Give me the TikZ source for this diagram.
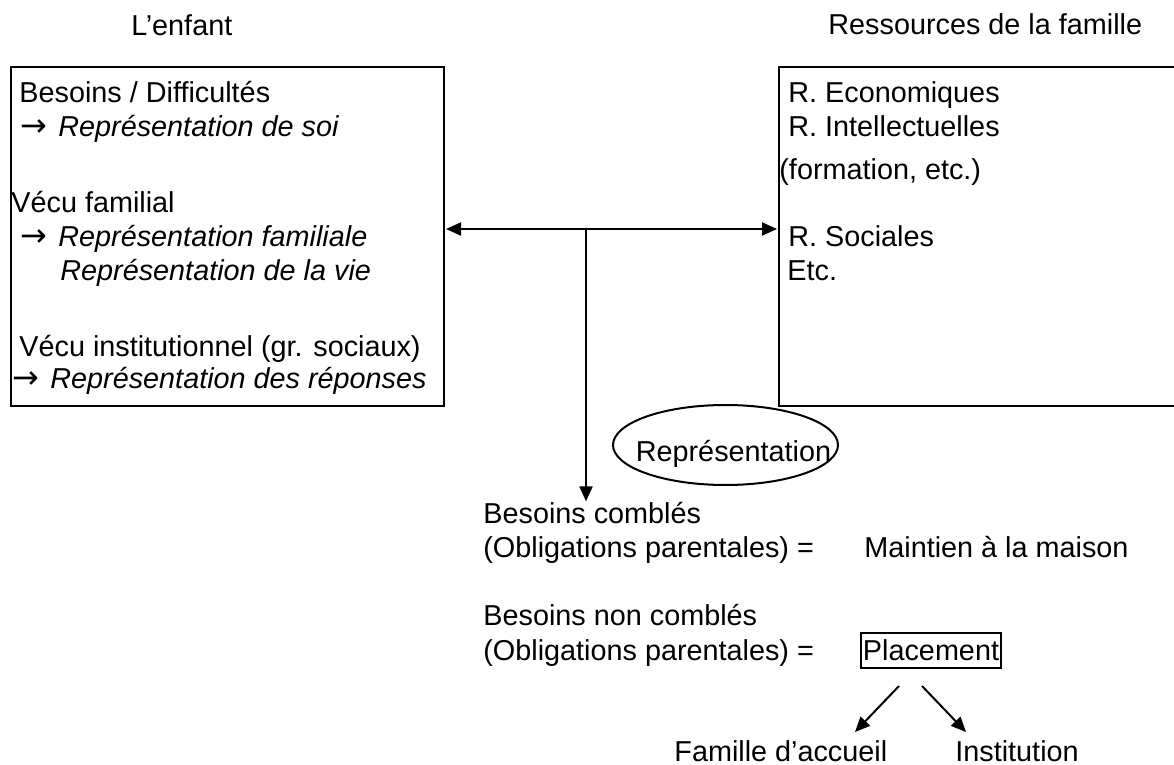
\documentclass[tikz,border=0pt]{standalone}
\usepackage{fontspec}
\setmainfont{Liberation Sans}
\newfontfamily\symfont{DejaVu Sans}
\usetikzlibrary{shapes.geometric,arrows.meta,positioning}
\newcommand{\fleche}{\makebox[19pt][l]{\fontsize{16}{17}\symfont →}}

\begin{document}
\begin{tikzpicture}[
    x=0.5pt, y=-0.5pt,
    txt/.style={anchor=base west, inner sep=0pt, font=\fontsize{14.4}{17}\selectfont},
    panel/.style={rectangle, draw, line width=1pt, anchor=north west, inner sep=0pt},
    arrow/.style={-{Triangle[length=7.5pt, width=6.5pt]}, line width=1pt}
]
\useasboundingbox (0,0) rectangle (1174,765);

\node[txt] (h1) at (131,36) {L’enfant};
\node[txt] (h2) at (828,35) {Ressources de la famille};

\node[panel, minimum width=216.5pt, minimum height=169.5pt] (enfant) at (10,66) {};
\node[panel, minimum width=202pt, minimum height=169.5pt] (famille) at (778,66) {};

% l'enfant
\node[txt] (besoins) at (19,103) {Besoins / Difficultés};
\node[txt] (soi) at (20,137) {\fleche\textit{Représentation de soi}};
\node[txt] (vecu) at (11,213) {Vécu familial};
\node[txt] (fam) at (20,247) {\fleche\textit{Représentation familiale}};
\node[txt] (vie) at (60,280) {\textit{Représentation de la vie}};
\node[txt] (instvecu) at (19,357) {Vécu institutionnel (gr. sociaux)};
\node[txt] (rep) at (12,388) {\fleche\textit{Représentation des réponses}};

% ressources
\node[txt] (eco) at (788,103) {R. Economiques};
\node[txt] (intel) at (788,137) {R. Intellectuelles};
\node[txt] (form) at (779,180) {(formation, etc.)};
\node[txt] (soc) at (788,247) {R. Sociales};
\node[txt] (etc) at (787,280) {Etc.};

\coordinate (mid) at (586,229);
\draw[arrow, shorten >=0.5pt] (mid) -- (mid -| enfant.east);
\draw[arrow, shorten >=0.5pt] (mid) -- (mid -| famille.west);

\node[ellipse, draw, line width=1pt, minimum width=112.5pt, minimum height=40pt, inner sep=0pt,
      font=\fontsize{14.4}{17}\selectfont] (repr) at (725.5,445)
      {\makebox[0pt]{\hspace{8pt}\raisebox{-8pt}[0pt][0pt]{Représentation}}};

% issues
\node[txt] (comble) at (483,523) {Besoins comblés};
\node[txt] (oblig1) at (483,557) {(Obligations parentales) =};
\node[txt] (maintien) at (864,557) {Maintien à la maison};
\node[txt] (noncomble) at (483,625) {Besoins non comblés};
\node[txt] (oblig2) at (483,660) {(Obligations parentales) =};
\node[draw, line width=1pt, inner sep=1pt, minimum width=70pt, minimum height=17.5pt,
      font=\fontsize{14.4}{17}\selectfont] (placement) at (931,650.5) {Placement};

\draw[arrow] (mid) -- (mid |- comble.north);

\node[txt] (accueil) at (674,761) {Famille d’accueil};
\node[txt] (instit) at (955,761) {Institution};

\draw[arrow] ([xshift=-16pt,yshift=-8.5pt]placement.south) -- ++(-44,46);
\draw[arrow] ([xshift=-4.5pt,yshift=-8.5pt]placement.south) -- ++(44,46);
\end{tikzpicture}
\end{document}
